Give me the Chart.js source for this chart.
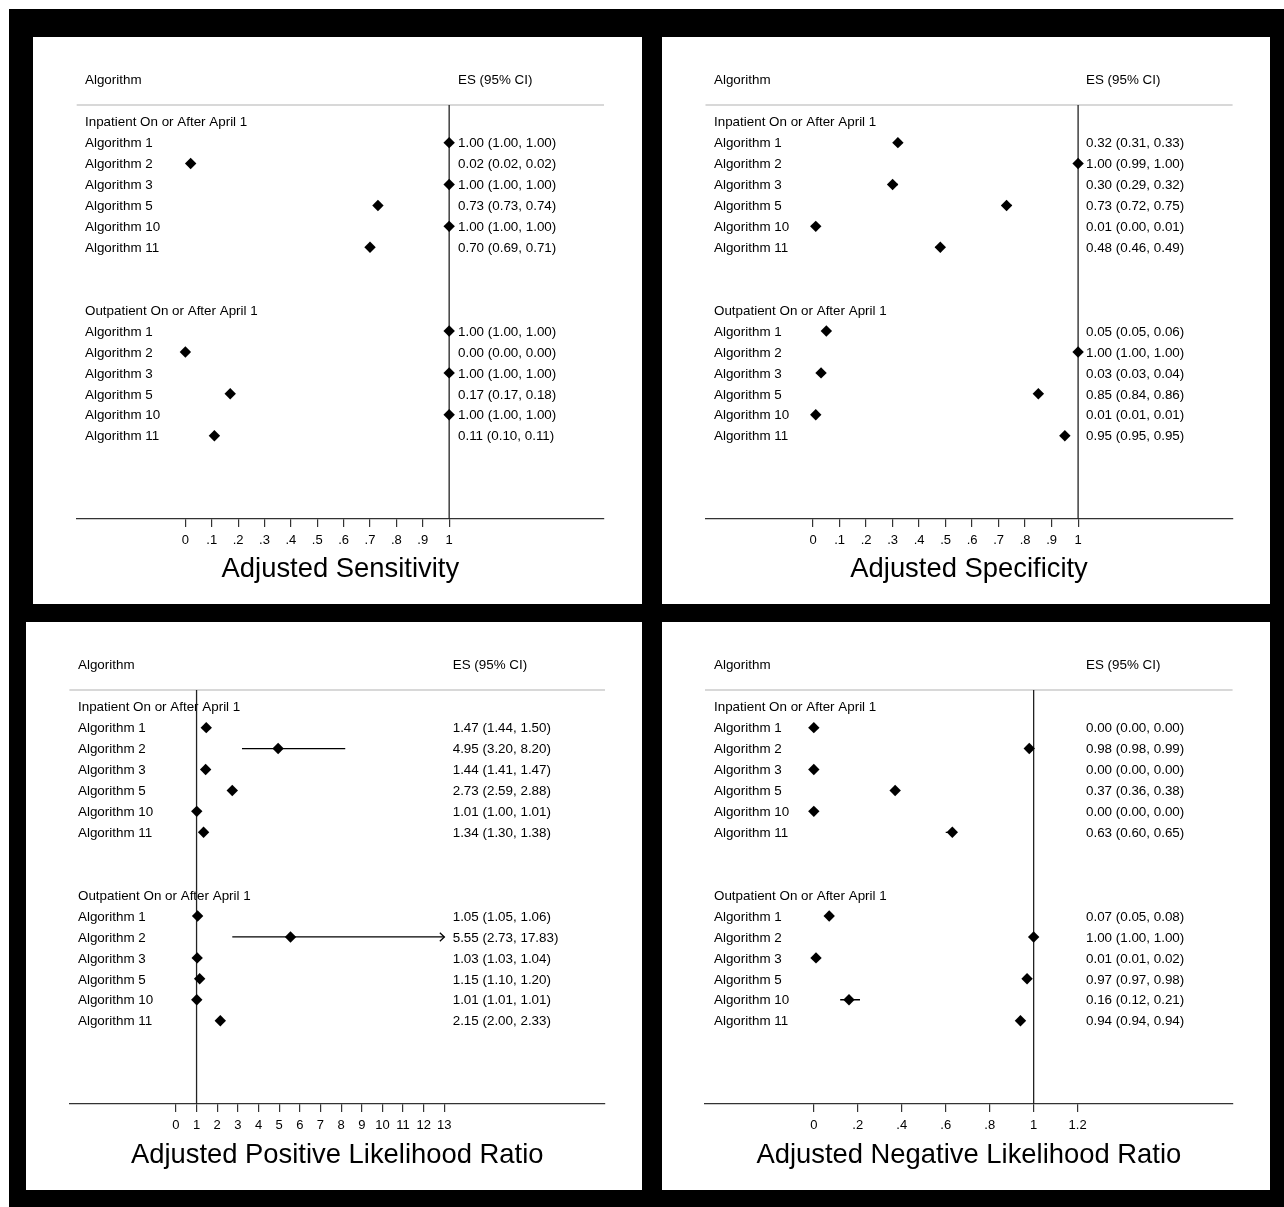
<!DOCTYPE html>
<html>
<head>
<meta charset="utf-8">
<script src="https://cdn.jsdelivr.net/npm/chart.js@4.4.0/dist/chart.umd.min.js"></script>
<style>
  html, body { margin: 0; padding: 0; background: #fff; }
  #frame { position: absolute; left: 9px; top: 9px; width: 1275px; height: 1198px; background: #000; }
  canvas { position: absolute; background: #fff; }
</style>
</head>
<body>
<div id="frame"></div>
<canvas id="sens" width="609" height="567" style="left:33px;top:37px"></canvas>
<canvas id="spec" width="608" height="567" style="left:662px;top:37px"></canvas>
<canvas id="plr" width="616" height="568" style="left:26px;top:622px"></canvas>
<canvas id="nlr" width="608" height="568" style="left:662px;top:622px"></canvas>
<script>
// rows: first 6 = inpatient, last 6 = outpatient
const groups = ['Inpatient On or After April 1', 'Outpatient On or After April 1'];
const algorithms = ['Algorithm 1', 'Algorithm 2', 'Algorithm 3', 'Algorithm 5', 'Algorithm 10', 'Algorithm 11'];

const sensEs = [1.00, 0.02, 1.00, 0.73, 1.00, 0.70,  1.00, 0.00, 1.00, 0.17, 1.00, 0.11];
const sensLo = [1.00, 0.02, 1.00, 0.73, 1.00, 0.69,  1.00, 0.00, 1.00, 0.17, 1.00, 0.10];
const sensHi = [1.00, 0.02, 1.00, 0.74, 1.00, 0.71,  1.00, 0.00, 1.00, 0.18, 1.00, 0.11];

const specEs = [0.32, 1.00, 0.30, 0.73, 0.01, 0.48,  0.05, 1.00, 0.03, 0.85, 0.01, 0.95];
const specLo = [0.31, 0.99, 0.29, 0.72, 0.00, 0.46,  0.05, 1.00, 0.03, 0.84, 0.01, 0.95];
const specHi = [0.33, 1.00, 0.32, 0.75, 0.01, 0.49,  0.06, 1.00, 0.04, 0.86, 0.01, 0.95];

const plrEs = [1.47, 4.95, 1.44, 2.73, 1.01, 1.34,  1.05, 5.55, 1.03, 1.15, 1.01, 2.15];
const plrLo = [1.44, 3.20, 1.41, 2.59, 1.00, 1.30,  1.05, 2.73, 1.03, 1.10, 1.01, 2.00];
const plrHi = [1.50, 8.20, 1.47, 2.88, 1.01, 1.38,  1.06, 17.83, 1.04, 1.20, 1.01, 2.33];

const nlrEs = [0.00, 0.98, 0.00, 0.37, 0.00, 0.63,  0.07, 1.00, 0.01, 0.97, 0.16, 0.94];
const nlrLo = [0.00, 0.98, 0.00, 0.36, 0.00, 0.60,  0.05, 1.00, 0.01, 0.97, 0.12, 0.94];
const nlrHi = [0.00, 0.99, 0.00, 0.38, 0.00, 0.65,  0.08, 1.00, 0.02, 0.98, 0.21, 0.94];

const propTicks = [0, 0.1, 0.2, 0.3, 0.4, 0.5, 0.6, 0.7, 0.8, 0.9, 1];
const plrTicks = [0, 1, 2, 3, 4, 5, 6, 7, 8, 9, 10, 11, 12, 13];
const nlrTicks = [0, 0.2, 0.4, 0.6, 0.8, 1, 1.2];

// row slots on the y scale
const groupRows = [0, 9];
const algRows = [1, 2, 3, 4, 5, 6, 10, 11, 12, 13, 14, 15];

const FONT = '"Liberation Sans", Arial, Helvetica, sans-serif';
const fmt = v => v.toFixed(2);
const tickLabel = v => String(v).replace(/^0\./, '.');

const forestText = {
  id: 'forestText',
  beforeDatasetsDraw(chart, args, o) {
    const {ctx, chartArea, scales: {y}} = chart;
    ctx.save();
    ctx.strokeStyle = '#cbcbcb';
    ctx.lineWidth = 1.5;
    ctx.beginPath();
    ctx.moveTo(chartArea.left, chartArea.top);
    ctx.lineTo(chartArea.right, chartArea.top);
    ctx.stroke();

    ctx.fillStyle = '#000';
    ctx.font = '13.4px ' + FONT;
    ctx.textBaseline = 'middle';
    ctx.fillText('Algorithm', o.labelX, 43);
    ctx.fillText('ES (95% CI)', o.esX, 43);
    groups.forEach((g, k) => ctx.fillText(g, o.labelX, y.getPixelForValue(groupRows[k]) + 1));
    algRows.forEach((r, i) => {
      const py = y.getPixelForValue(r) + 1;
      ctx.fillText(algorithms[i % 6], o.labelX, py);
      ctx.fillText(fmt(o.es[i]) + ' (' + fmt(o.lo[i]) + ', ' + fmt(o.hi[i]) + ')', o.esX, py);
    });
    ctx.restore();
  },
  afterDatasetsDraw(chart, args, o) {
    // arrow where the upper limit runs past the last tick
    const {ctx, scales: {x, y}} = chart;
    ctx.save();
    ctx.strokeStyle = '#000';
    ctx.lineWidth = 1.3;
    algRows.forEach((r, i) => {
      if (o.hi[i] > o.cap) {
        const px = x.getPixelForValue(o.cap), py = y.getPixelForValue(r);
        ctx.beginPath();
        ctx.moveTo(px - 4.5, py - 4.3);
        ctx.lineTo(px, py);
        ctx.lineTo(px - 4.5, py + 4.3);
        ctx.stroke();
      }
    });
    ctx.restore();
  }
};

function forest(id, p) {
  const yMin = -0.798, yMax = 18.98;
  const cap = p.ticks[p.ticks.length - 1];
  const ciSets = algRows.map((r, i) => ({
    data: [{x: p.lo[i], y: r}, {x: Math.min(p.hi[i], cap), y: r}],
    showLine: true, borderColor: '#000', borderWidth: 1.3, pointRadius: 0, order: 2
  }));
  new Chart(document.getElementById(id), {
    type: 'scatter',
    data: {
      datasets: [
        {
          data: p.es.map((v, i) => ({x: v, y: algRows[i]})),
          pointStyle: 'rectRot', pointRadius: 5.7, backgroundColor: '#000', borderWidth: 0, order: 1
        },
        ...ciSets,
        {
          data: [{x: 1, y: yMin}, {x: 1, y: yMax}],
          showLine: true, borderColor: '#222', borderWidth: 1.3, pointRadius: 0, order: 3
        }
      ]
    },
    options: {
      responsive: false,
      animation: false,
      events: [],
      layout: {padding: {left: p.left, right: p.w - p.right, top: 68, bottom: 0}},
      plugins: {
        legend: {display: false},
        tooltip: {enabled: false},
        forestText: {labelX: 52, esX: p.esX, es: p.es, lo: p.lo, hi: p.hi, cap: cap}
      },
      scales: {
        x: {
          type: 'linear',
          min: p.xMin,
          max: p.xMax,
          afterBuildTicks: s => { s.ticks = p.ticks.map(v => ({value: v})); },
          afterFit: s => { s.height = p.h - 482; },
          ticks: {
            callback: v => tickLabel(v),
            color: '#000', font: {size: 13, family: FONT}, padding: 6,
            autoSkip: false, maxRotation: 0
          },
          grid: {drawOnChartArea: false, drawTicks: true, tickLength: 8, color: '#333', lineWidth: 1.2},
          border: {display: true, color: '#333', width: 1.3},
          title: {
            display: true, text: p.title, color: '#000',
            font: {size: 27.4, family: FONT}, padding: {top: 0, bottom: 18}
          }
        },
        y: {type: 'linear', display: false, reverse: true, min: yMin, max: yMax}
      }
    },
    plugins: [forestText]
  });
}

forest('sens', {title: 'Adjusted Sensitivity', es: sensEs, lo: sensLo, hi: sensHi, ticks: propTicks,
  w: 609, h: 567, left: 43.7, right: 571, xMin: -0.412, xMax: 1.587, esX: 425});
forest('spec', {title: 'Adjusted Specificity', es: specEs, lo: specLo, hi: specHi, ticks: propTicks,
  w: 608, h: 567, left: 43.5, right: 570.6, xMin: -0.406, xMax: 1.583, esX: 424});
forest('plr', {title: 'Adjusted Positive Likelihood Ratio', es: plrEs, lo: plrLo, hi: plrHi, ticks: plrTicks,
  w: 616, h: 568, left: 43.4, right: 579, xMin: -5.158, xMax: 20.78, esX: 426.7});
forest('nlr', {title: 'Adjusted Negative Likelihood Ratio', es: nlrEs, lo: nlrLo, hi: nlrHi, ticks: nlrTicks,
  w: 608, h: 568, left: 43, right: 570.6, xMin: -0.495, xMax: 1.905, esX: 424});
</script>
</body>
</html>
